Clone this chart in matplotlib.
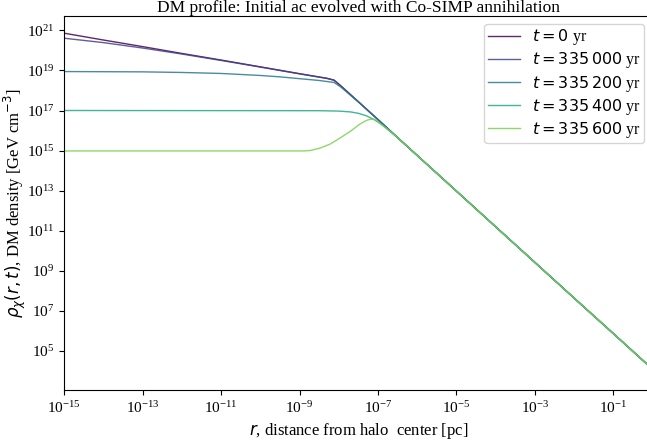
import numpy as np
import matplotlib
matplotlib.use("Agg")
import matplotlib.pyplot as plt

plt.rcParams['font.family'] = ['serif']
plt.rcParams['font.serif'] = ['Liberation Serif', 'DejaVu Serif']

# log10(r [pc]) and log10(rho [GeV cm^-3])
outer_logr = [-6.5, -5.0, -4.0, -3.0, -2.0, -1.0, 0.0, 0.1]
outer_logrho = [15.65, 12.98, 11.20, 9.42, 7.64, 5.87, 4.09, 3.91]

t0_logr = [-15.0, -14.0, -13.0, -12.0, -11.0, -10.0, -9.0, -8.3, -8.12, -7.95, -7.5, -7.0]
t0_logrho = [20.86, 20.52, 20.19, 19.85, 19.52, 19.18, 18.84, 18.61, 18.52, 18.24, 17.44, 16.55]

t1_logr = [-15.0, -14.0, -13.0, -12.0, -11.0, -10.0, -9.0, -8.3, -8.12, -7.95, -7.5, -7.0]
t1_logrho = [20.61, 20.39, 20.12, 19.82, 19.50, 19.17, 18.83, 18.60, 18.51, 18.23, 17.44, 16.55]

t2_logr = [-15.0, -13.0, -12.0, -11.0, -10.0, -9.5, -9.0, -8.5, -8.12, -7.95, -7.8, -7.5, -7.0]
t2_logrho = [18.945, 18.93, 18.90, 18.85, 18.75, 18.68, 18.59, 18.50, 18.40, 18.18, 17.93, 17.43, 16.55]

t3_logr = [-15.0, -8.5, -8.0, -7.7, -7.5, -7.3, -7.1, -6.9, -6.7]
t3_logrho = [17.0, 16.99, 16.97, 16.93, 16.86, 16.74, 16.55, 16.30, 15.97]

t4_logr = [-15.0, -8.9, -8.73, -8.48, -8.22, -7.97, -7.71, -7.46, -7.3, -7.2, -7.1, -7.0, -6.9, -6.7]
t4_logrho = [14.98, 14.98, 15.0, 15.12, 15.32, 15.62, 15.95, 16.32, 16.50, 16.56, 16.56, 16.45, 16.28, 15.99]

labels = [r"$t = 0$ yr", r"$t = 335\,000$ yr", r"$t = 335\,200$ yr",
          r"$t = 335\,400$ yr", r"$t = 335\,600$ yr"]

series = [(t0_logr, t0_logrho), (t1_logr, t1_logrho), (t2_logr, t2_logrho),
          (t3_logr, t3_logrho), (t4_logr, t4_logrho)]

colors = plt.cm.viridis(np.linspace(0, 0.8, 5))

fig = plt.figure(figsize=(6.47, 4.42), dpi=100)
ax = fig.add_axes([64.3 / 647, 52 / 442, 588 / 647, 374 / 442])

for (lr, lrho), lab, c in zip(series, labels, colors):
    r = np.concatenate([lr, outer_logr])
    rho = np.concatenate([lrho, outer_logrho])
    ax.plot(10.0 ** r, 10.0 ** rho, color=c, alpha=0.85, lw=1.0, label=lab)

ax.set_xscale('log')
ax.set_yscale('log')
ax.set_xlim(1e-15, 1e0)
ax.set_ylim(10 ** 3.04, 10 ** 21.72)
ax.set_xticks([10.0 ** k for k in range(-15, 0, 2)])
ax.set_yticks([10.0 ** k for k in range(5, 22, 2)])
ax.minorticks_off()
ax.tick_params(labelsize=11)

ax.set_title("DM profile: Initial ac evolved with Co-SIMP annihilation", fontsize=12.5, pad=2)
ax.set_xlabel(r"$r$, distance from halo  center [pc]", fontsize=12)
ax.set_ylabel(r"$\rho_\chi(r,t)$, DM density [GeV cm$^{-3}$]", fontsize=12)
ax.yaxis.set_label_coords(-0.062, 0.5)
ax.legend(loc='upper right', fontsize=11.5, labelspacing=0.2, handlelength=2.0,
          borderpad=0.2)

fig.savefig("out.png", dpi=100)
